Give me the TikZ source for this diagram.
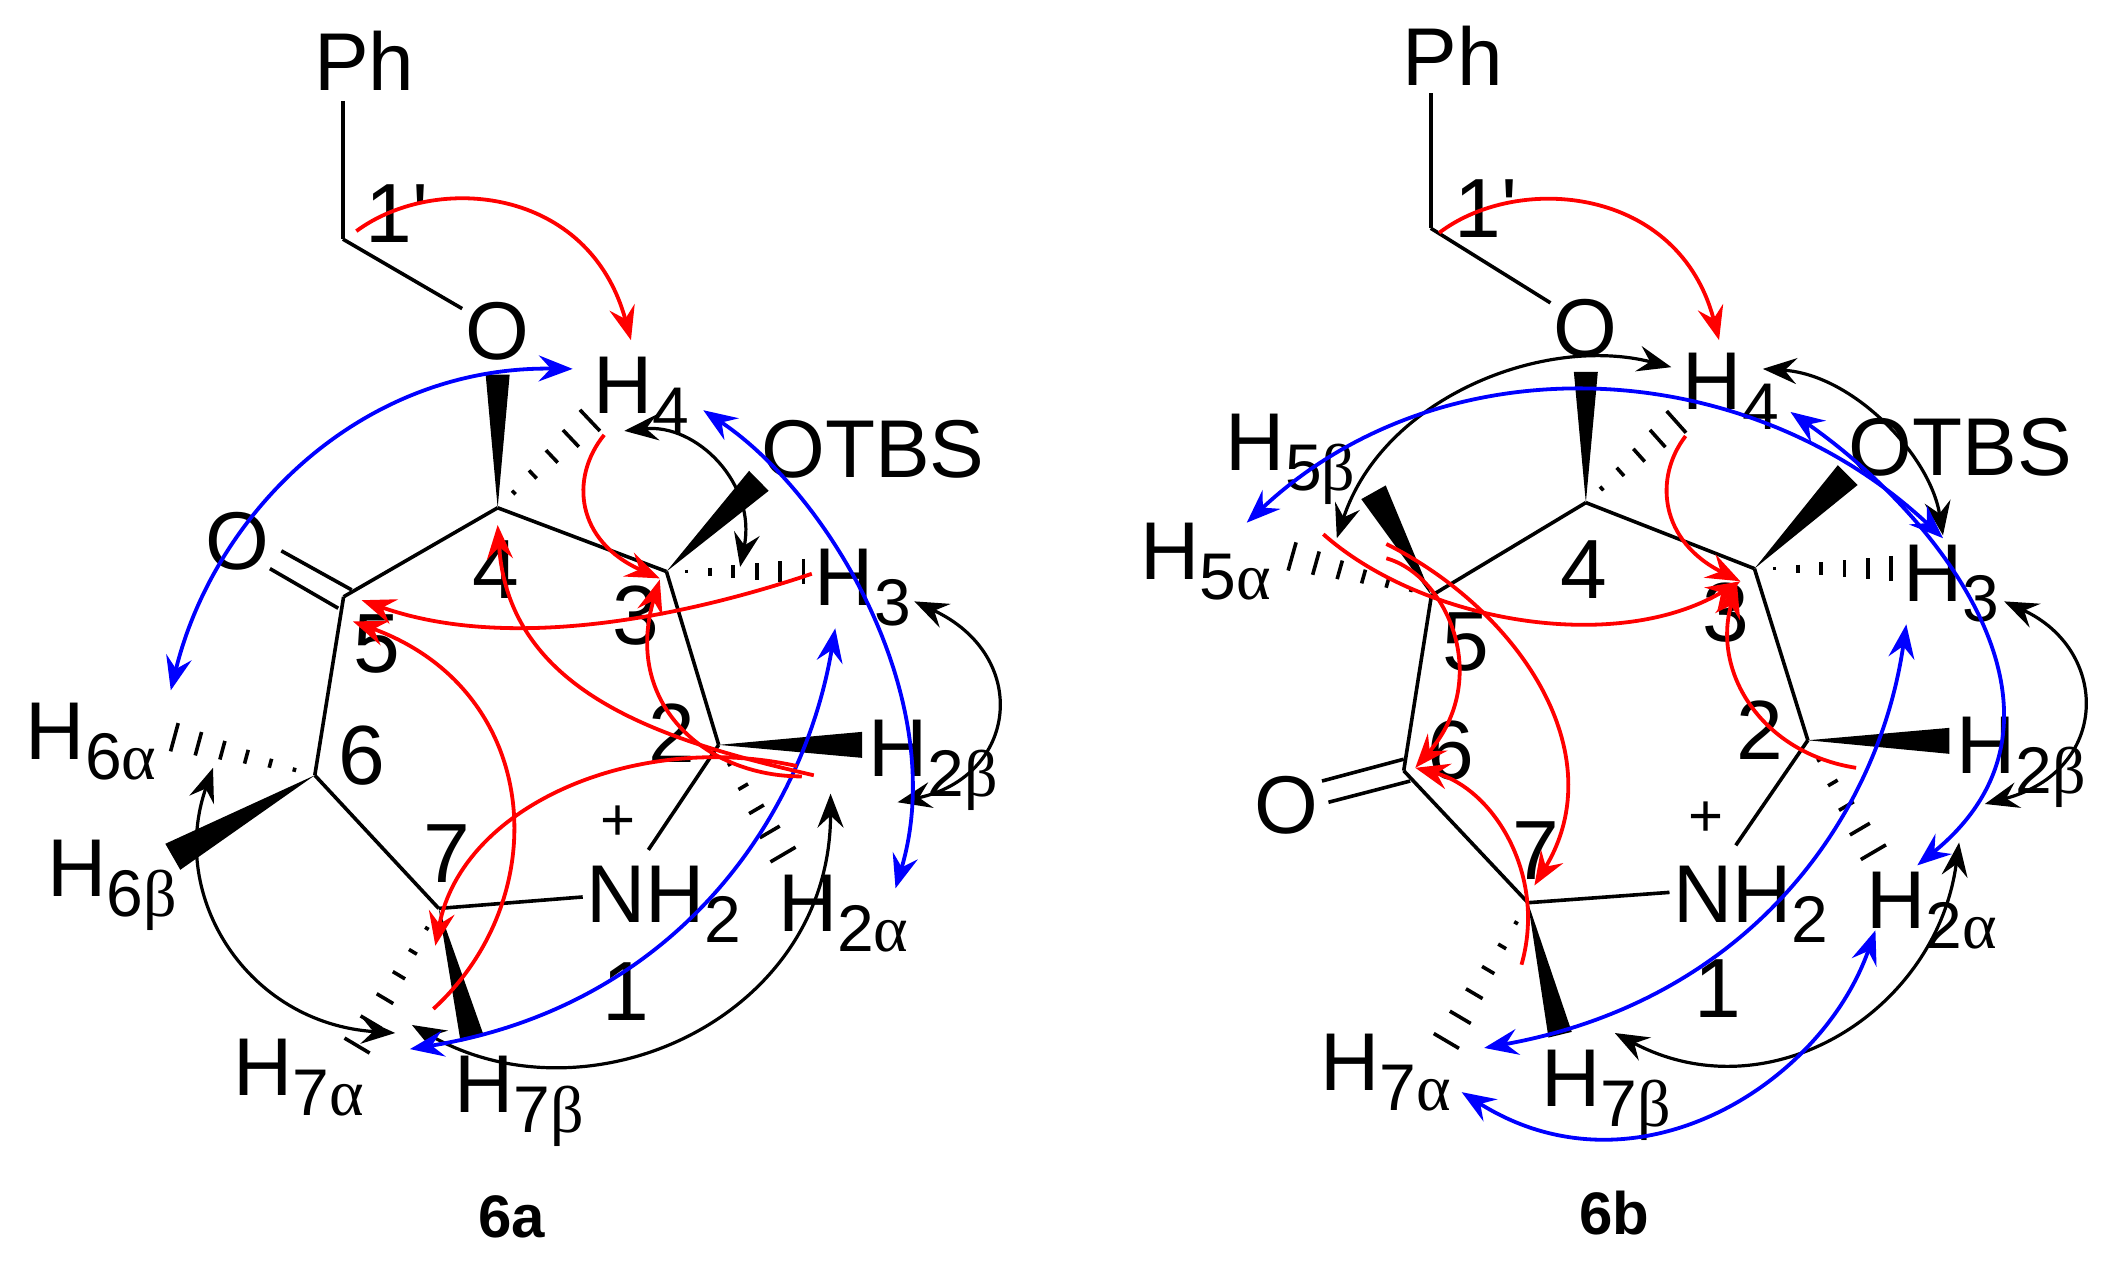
\documentclass[tikz,border=0pt]{standalone}
\usepackage{fontspec}
\setmainfont{Liberation Sans}
\newfontfamily\grk{Liberation Serif}
\newfontfamily\plainf{Liberation Sans}
\usetikzlibrary{arrows.meta,calc}
\newcommand\subsz{\fontsize{33}{33}\selectfont}
\newcommand\HS[2]{H\raisebox{-10pt}{\subsz #1{\grk #2}}}
\newcommand\Bz[2]{\draw[bond] (#1) -- (#2);}
\newcommand\Wdg[3]{\fill[black] (#1) -- ($(#2)!#3!90:(#1)$) -- ($(#2)!#3!-90:(#1)$) -- cycle;}
\newcommand\Hsh[4]{\foreach \i in {1,...,#3}{%
  \pgfmathsetmacro\tt{(\i-0.15)/#3}\pgfmathsetmacro\ww{#4*\tt}%
  \coordinate (P) at ($(#1)!\tt!(#2)$);
  \draw[bond] ($(P)!\ww pt!90:(#2)$) -- ($(P)!\ww pt!-90:(#2)$);}}
\newcommand\Arc[6]{\coordinate (#2s) at (#3); \coordinate (#2e) at (#6);
  \draw[#1] (#2s) .. controls (#4) and (#5) .. (#2e);}
\tikzset{
  hd/.tip={Stealth[length=17pt,width=13pt,inset=6pt]},
  bond/.style={line width=1.8pt,black},
  lab/.style={inner sep=0pt,font=\fontsize{41}{41}\selectfont,text=black},
  hl/.style={lab,anchor=base west},
  num/.style={lab,font=\fontsize{42}{42}\selectfont},
  ttl/.style={inner sep=0pt,font=\fontsize{30}{30}\selectfont\bfseries},
  rr/.style={red,line width=1.9pt,-hd},
  bb/.style={blue,line width=1.9pt,hd-hd},
  kk/.style={black,line width=1.6pt,hd-hd},
}
\begin{document}
\begin{tikzpicture}[x=0.5pt,y=-0.5pt]
\useasboundingbox (0,0) rectangle (2109,1269);
% ---------- 6a ----------
\begin{scope}[shift={(0,300)},x=0.3349pt,y=-0.2870pt]
\foreach \n/\p in {c4/{743,362},c3/{995,473},c2/{1073,775},c7/{655,1060},c6/{470,828},c5/{513,517},cb/{512,-106},pb/{512,-347},ob/{690,15},
 oa/{420,437},ob1/{525,505},oc/{403,468},od/{505,537},nl/{870,1040},nu/{968,958},
 w4/{743,130},h4e/{885,205},w3/{1133,315},h3e/{1205,473},w2/{1287,775},h2e/{1172,972},h6a/{255,760},w6/{258,970},h7a/{530,1305},w7/{705,1287}}
 {\coordinate (a\n) at (\p);}
\node[lab] (aPh) at (544,-416) {Ph};
\node[lab] (aO1) at (743,55) {O};
\node[lab] (aO2) at (355,420) {O};
\node[lab,anchor=base west] (aOT) at (1136,309) {OTBS};
\node[hl] (aH4) at (885,197) {\HS{4}{}};
\node[hl] (aH3) at (1216,533) {\HS{3}{}};
\node[hl] (aH2b) at (1296,830) {\HS{2}{β}};
\node[hl] (aH2a) at (1161,1100) {\HS{2}{α}};
\node[hl] (aNH) at (875,1085) {NH\raisebox{-10pt}{\subsz 2}};
\node[hl] (aH6a) at (38,800) {\HS{6}{α}};
\node[hl] (aH6b) at (70,1040) {\HS{6}{β}};
\node[hl] (aH7a) at (348,1385) {\HS{7}{α}};
\node[hl] (aH7b) at (678,1415) {\HS{7}{β}};
\node[lab,font=\fontsize{30}{30}\selectfont] (aplus) at (922,912) {+};
\node[num] (an4) at (740,470) {4};
\node[num] (an3) at (950,550) {3};
\node[num] (an2) at (1003,755) {2};
\node[num] (an5) at (563,600) {5};
\node[num] (an6) at (540,793) {6};
\node[num] (an7) at (667,965) {7};
\node[num] (an1) at (935,1205) {1};
\node[num] (an1p) at (593,-150) {\plainf 1'};
\Bz{ac4}{ac3}\Bz{ac3}{ac2}\Bz{ac5}{ac4}\Bz{ac5}{ac6}\Bz{ac6}{ac7}\Bz{ac7}{anl}\Bz{ac2}{anu}
\Bz{apb}{acb}\Bz{acb}{aob}\Bz{aoa}{aob1}\Bz{aoc}{aod}
\Wdg{ac4}{aw4}{6pt}\Wdg{ac3}{aw3}{7pt}\Wdg{ac2}{aw2}{6.5pt}\Wdg{ac6}{aw6}{7.5pt}\Wdg{ac7}{aw7}{6pt}
\Hsh{ac4}{ah4e}{5}{7.5}\Hsh{ac3}{ah3e}{6}{6.5}\Hsh{ac2}{ah2e}{5}{7.5}\Hsh{ac6}{ah6a}{6}{7.5}\Hsh{ac7}{ah7a}{6}{7.5}
\Arc{kk}{ak1}{932,228}{1040,215}{1130,320}{1105,465}
\Arc{kk}{ak2}{1365,525}{1540,620}{1520,830}{1340,875}
\Arc{kk}{ak3}{318,815}{250,1040}{370,1260}{590,1277}
\Arc{kk}{ak4}{1240,860}{1240,1250}{880,1440}{615,1263}
\Arc{bb}{ab1}{255,680}{320,370}{540,115}{855,120}
\Arc{bb}{ab2}{1050,192}{1240,340}{1420,700}{1337,1025}
\Arc{bb}{ab3}{1247,572}{1200,900}{1010,1230}{612,1305}
\Arc{rr}{ar1}{532,-120}{650,-222}{880,-198}{942,70}
\Arc{rr}{ar2}{902,235}{850,310}{860,420}{985,485}
\Arc{rr}{ar3}{1212,477}{1000,560}{750,610}{540,523}
\Arc{rr}{ar4}{1197,830}{1050,830}{930,700}{985,487}
\Arc{rr}{ar5}{1215,828}{1000,770}{760,690}{743,392}
\Arc{rr}{ar6}{1190,812}{950,750}{690,880}{650,1125}
\Arc{rr}{ar7}{647,1235}{830,1040}{810,680}{527,560}
\end{scope}
% ---------- 6b ----------
\begin{scope}[shift={(1100,300)},x=0.32175pt,y=-0.2870pt]
\foreach \n/\p in {c4/{755,353},c3/{1017,468},c2/{1100,767},c7/{665,1050},c6/{472,820},c5/{515,515},cb/{514,-125},pb/{514,-360},ob/{700,5},
 oa/{345,838},ob1/{472,800},oc/{355,875},od/{482,838},nl/{885,1032},nu/{988,950},
 w4/{755,125},h4e/{900,208},w3/{1162,305},h3e/{1235,468},w2/{1320,768},h2e/{1205,968},h5a/{293,445},w5/{425,335},h7a/{535,1297},w7/{715,1280}}
 {\coordinate (b\n) at (\p);}
\node[lab] (bPh) at (548,-425) {Ph};
\node[lab] (bO1) at (755,50) {O};
\node[lab] (bO2) at (290,880) {O};
\node[lab,anchor=base west] (bOT) at (1163,305) {OTBS};
\node[hl] (bH4) at (905,190) {\HS{4}{}};
\node[hl] (bH3) at (1248,525) {\HS{3}{}};
\node[hl] (bH2b) at (1330,825) {\HS{2}{β}};
\node[hl] (bH2a) at (1190,1095) {\HS{2}{α}};
\node[hl] (bNH) at (890,1085) {NH\raisebox{-10pt}{\subsz 2}};
\node[hl] (bH5b) at (195,297) {\HS{5}{β}};
\node[hl] (bH5a) at (62,487) {\HS{5}{α}};
\node[hl] (bH7a) at (342,1378) {\HS{7}{α}};
\node[hl] (bH7b) at (685,1405) {\HS{7}{β}};
\node[lab,font=\fontsize{30}{30}\selectfont] (bplus) at (942,905) {+};
\node[num] (bn4) at (752,470) {4};
\node[num] (bn3) at (972,545) {3};
\node[num] (bn2) at (1025,750) {2};
\node[num] (bn5) at (568,595) {5};
\node[num] (bn6) at (545,785) {6};
\node[num] (bn7) at (677,960) {7};
\node[num] (bn1) at (960,1200) {1};
\node[num] (bn1p) at (600,-160) {\plainf 1'};
\Bz{bc4}{bc3}\Bz{bc3}{bc2}\Bz{bc5}{bc4}\Bz{bc5}{bc6}\Bz{bc6}{bc7}\Bz{bc7}{bnl}\Bz{bc2}{bnu}
\Bz{bpb}{bcb}\Bz{bcb}{bob}\Bz{boa}{bob1}\Bz{boc}{bod}
\Wdg{bc4}{bw4}{6pt}\Wdg{bc3}{bw3}{7pt}\Wdg{bc2}{bw2}{6.5pt}\Wdg{bc5}{bw5}{7pt}\Wdg{bc7}{bw7}{6pt}
\Hsh{bc4}{bh4e}{5}{7.5}\Hsh{bc3}{bh3e}{6}{6.5}\Hsh{bc2}{bh2e}{5}{7.5}\Hsh{bc5}{bh5a}{6}{7.5}\Hsh{bc7}{bh7a}{6}{7.5}
\Arc{kk}{bk1}{888,117}{690,60}{440,170}{368,415}
\Arc{kk}{bk2}{1030,120}{1170,130}{1290,270}{1310,410}
\Arc{kk}{bk3}{1405,525}{1570,610}{1570,820}{1375,878}
\Arc{kk}{bk4}{1335,945}{1300,1240}{1040,1420}{800,1277}
\Arc{bb}{bb1}{228,388}{530,70}{1000,90}{1310,415}
\Arc{bb}{bb2}{1073,195}{1310,380}{1550,730}{1270,985}
\Arc{bb}{bb3}{1253,565}{1210,900}{1010,1220}{597,1303}
\Arc{bb}{bb4}{1205,1098}{1120,1370}{830,1570}{562,1380}
\Arc{rr}{br1}{527,-117}{650,-222}{900,-198}{962,70}
\Arc{rr}{br2}{910,237}{860,310}{870,420}{995,490}
\Arc{rr}{br3}{347,408}{500,560}{800,620}{995,490}
\Arc{rr}{br4}{1175,815}{1030,790}{950,650}{990,495}
\Arc{rr}{br5}{445,450}{540,480}{610,660}{490,815}
\Arc{rr}{br6}{445,425}{650,540}{800,790}{675,1020}
\Arc{rr}{br7}{655,1158}{695,1000}{610,850}{490,815}
\end{scope}
\node[ttl] (l6a) at (512,1217) {6a};
\node[ttl] (l6b) at (1614,1213) {6b};
\end{tikzpicture}
\end{document}
